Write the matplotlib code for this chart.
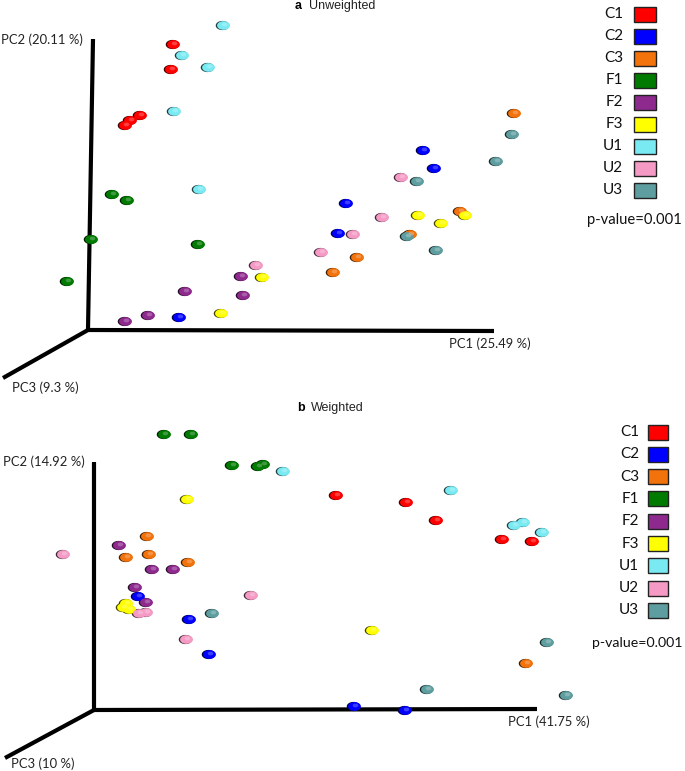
import numpy as np
import matplotlib
matplotlib.use('Agg')
import matplotlib.pyplot as plt
import matplotlib.colors as mcolors
from matplotlib.path import Path
from matplotlib.patches import Rectangle
from matplotlib.transforms import ScaledTranslation

groups = ['C1', 'C2', 'C3', 'F1', 'F2', 'F3', 'U1', 'U2', 'U3']
colors = ['#ff0000', '#0000ff', '#f2720c', '#007a00', '#8e2a8e',
          '#ffff00', '#7aeaf2', '#f49ac4', '#5f9ea0']

# panel a (unweighted) - projected positions, origin at axis corner
a_x = {
    'C1': [85, 83, 52, 42, 37],
    'C2': [91, 335, 346, 258, 250],
    'C3': [426, 372, 322, 269, 245],
    'F1': [24, 39, 3, 110, -21],
    'F2': [153, 97, 155, 60, 37],
    'F3': [174, 133, 330, 353, 377],
    'U1': [135, 94, 120, 86, 111],
    'U2': [168, 313, 294, 265, 233],
    'U3': [424, 408, 329, 319, 348],
}
a_y = {
    'C1': [286, 261, 215, 210, 205],
    'C2': [13, 180, 162, 127, 97],
    'C3': [217, 119, 96, 73, 58],
    'F1': [136, 130, 91, 86, 49],
    'F2': [54, 39, 35, 15, 9],
    'F3': [53, 17, 115, 107, 115],
    'U1': [305, 275, 263, 219, 141],
    'U2': [65, 153, 113, 96, 78],
    'U3': [196, 169, 149, 94, 80],
}

# panel b (weighted)
b_x = {
    'C1': [242, 312, 342, 408, 438],
    'C2': [44, 95, 115, 260, 311],
    'C3': [53, 32, 55, 94, 432],
    'F1': [70, 97, 138, 164, 169],
    'F2': [25, 58, 79, 41, 52],
    'F3': [93, 32, 29, 35, 278],
    'U1': [189, 357, 420, 429, 448],
    'U2': [-31, 45, 52, 92, 157],
    'U3': [118, 453, 333, 472],
}
b_y = {
    'C1': [215, 208, 190, 171, 169],
    'C2': [114, 91, 56, 4, 0],
    'C3': [174, 153, 156, 148, 47],
    'F1': [276, 276, 245, 244, 246],
    'F2': [165, 141, 141, 123, 108],
    'F3': [211, 107, 103, 101, 80],
    'U1': [239, 220, 185, 188, 178],
    'U2': [156, 97, 98, 71, 115],
    'U3': [97, 68, 21, 15],
}

pc_a = ['PC1 (25.49 %)', 'PC2 (20.11 %)', 'PC3 (9.3 %)']
pc_b = ['PC1 (41.75 %)', 'PC2 (14.92 %)', 'PC3 (10 %)']
pvalue = 'p-value=0.001'

fig = plt.figure(figsize=(6.85, 7.71), dpi=100)

t = np.linspace(0, 2 * np.pi, 60)
ellipse = Path(np.column_stack([np.cos(t), 0.68 * np.sin(t)]), closed=True)


def shade(c, f):
    r = np.array(mcolors.to_rgb(c))
    if f < 1:
        return tuple(r * f)
    return tuple(r + (1 - r) * (f - 1))


def spheres(ax, xs, ys, c):
    px = 72.0 / fig.dpi
    sh = ax.transData + ScaledTranslation(-1.2 * px / 72, -0.4 * px / 72, fig.dpi_scale_trans)
    hl = ax.transData + ScaledTranslation(1.2 * px / 72, 1.2 * px / 72, fig.dpi_scale_trans)
    ax.scatter(xs, ys, s=95, marker=ellipse, color=shade(c, 0.25), lw=0, transform=sh, zorder=3)
    ax.scatter(xs, ys, s=85, marker=ellipse, color=c, lw=0, zorder=4)
    ax.scatter(xs, ys, s=16, marker=ellipse, color=shade(c, 1.35), lw=0, alpha=0.7, transform=hl, zorder=5)


def panel(rect, xlim, ylim, xs, ys, ends, labels, lab_pos, letter, title, tpos, leg):
    ax = fig.add_axes(rect)
    ax.set_xlim(*xlim)
    ax.set_ylim(*ylim)
    ax.axis('off')
    for e in ends:
        ax.plot([0, e[0]], [0, e[1]], color='black', lw=3.0, solid_capstyle='butt', zorder=2)
    ax.text(lab_pos[0][0], lab_pos[0][1], labels[0], ha='left', va='center', fontsize=9.4,
            family='Lato', color='#222222')
    ax.text(lab_pos[1][0], lab_pos[1][1], labels[1], ha='right', va='center', fontsize=9.4,
            family='Lato', color='#222222')
    ax.text(lab_pos[2][0], lab_pos[2][1], labels[2], ha='left', va='center', fontsize=9.4,
            family='Lato', color='#222222', clip_on=False)
    ax.text(tpos[0], tpos[1], letter, ha='left', va='center', fontsize=9, fontweight='bold',
            family='Liberation Sans')
    ax.text(tpos[0] + 14, tpos[1], title, ha='left', va='center', fontsize=9,
            family='Liberation Sans', color='#222222')
    for g, c in zip(groups, colors):
        spheres(ax, xs[g], ys[g], c)
    lx, sx, sw, y0, dy, px_, py_, pfs = leg
    for i, (g, c) in enumerate(zip(groups, colors)):
        yy = y0 - i * dy
        ax.text(lx, yy, g, ha='right', va='center', fontsize=11, family='Lato', color='#111111')
        ax.add_patch(Rectangle((sx, yy - 7.5), sw, 15, facecolor=c, edgecolor='#222222', lw=1.0,
                               clip_on=False, zorder=3))
    ax.text(px_, py_, pvalue, ha='left', va='center', fontsize=pfs, family='Lato', color='#111111')
    return ax


# panel a: region y 0..385 px, origin (88, 330)
panel([0, 386 / 771, 1, 385 / 771], (-88, 597), (-55, 330), a_x, a_y,
      [(406, -1), (5, 291), (-85, -48)], pc_a,
      [(361, -14), (-5, 290), (-76, -58)], 'a', 'Unweighted', (207, 324),
      (535, 546, 22, 316, 22, 499, 110, 10.6))

# panel b: region y 385..771 px, origin (94, 710)
panel([0, 0, 1, 386 / 771], (-94, 591), (-61, 325), b_x, b_y,
      [(443, 1), (0, 248), (-89, -48)], pc_b,
      [(414, -12), (-9, 248), (-83, -54)], 'b', 'Weighted', (203, 302),
      (545, 554, 20, 278, 22.3, 498, 67, 10.2))

fig.savefig('out.png', dpi=100)
